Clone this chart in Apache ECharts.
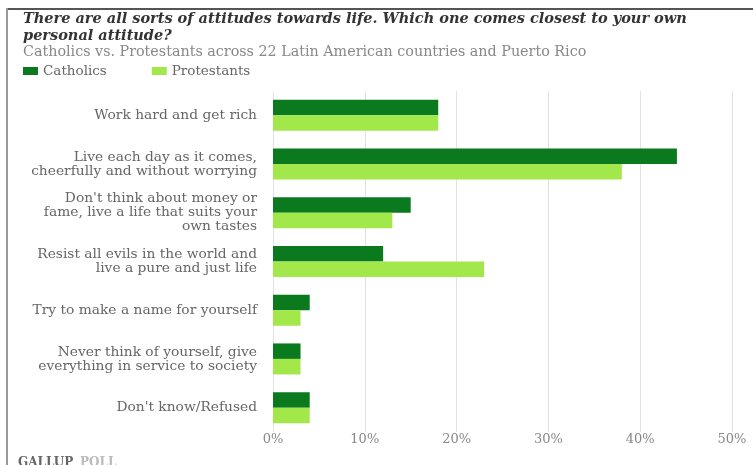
<!DOCTYPE html>
<html>
<head>
<meta charset="utf-8">
<script src="https://cdn.jsdelivr.net/npm/echarts@6/dist/echarts.min.js"></script>
<style>
  html, body { margin: 0; padding: 0; background: #fff; }
  #chart { width: 753px; height: 465px; }
</style>
</head>
<body>
<div id="chart"></div>
<script>
// attitudes, top to bottom
var categories = [
  'Work hard and get rich',
  'Live each day as it comes,\ncheerfully and without worrying',
  "Don't think about money or\nfame, live a life that suits your\nown tastes",
  'Resist all evils in the world and\nlive a pure and just life',
  'Try to make a name for yourself',
  'Never think of yourself, give\neverything in service to society',
  "Don't know/Refused"
];
var catholics = [18, 44, 15, 12, 4, 3, 4];
var protestants = [18, 38, 13, 23, 3, 3, 4];

var serif = 'Georgia, "DejaVu Serif", serif';
var dark = '#0b7a1e';
var light = '#a2e84a';

var myChart = echarts.init(document.getElementById('chart'));
myChart.setOption({
  animation: false,
  title: {
    text: 'There are all sorts of attitudes towards life. Which one comes closest to your own\npersonal attitude?',
    subtext: 'Catholics vs. Protestants across 22 Latin American countries and Puerto Rico',
    left: 18,
    top: 6,
    itemGap: 0,
    textStyle: {
      fontFamily: serif,
      fontStyle: 'italic',
      fontWeight: 'bold',
      fontSize: 14.5,
      lineHeight: 17,
      color: '#333'
    },
    subtextStyle: {
      fontFamily: serif,
      fontSize: 14.3,
      color: '#888'
    }
  },
  legend: {
    left: 18,
    top: 59,
    icon: 'rect',
    itemWidth: 15,
    itemHeight: 8,
    itemGap: 45,
    textStyle: { fontFamily: serif, fontSize: 13.5, color: '#666' },
    data: ['Catholics', 'Protestants']
  },
  grid: { left: 273, right: 21, top: 91, bottom: 33 },
  xAxis: {
    type: 'value',
    min: 0,
    max: 50,
    interval: 10,
    axisLine: { show: false },
    axisTick: { show: false },
    axisLabel: {
      formatter: '{value}%',
      fontFamily: serif,
      fontSize: 13,
      color: '#888',
      margin: 1
    },
    splitLine: { lineStyle: { color: '#e2e2e2', width: 1 } }
  },
  yAxis: {
    type: 'category',
    inverse: true,
    data: categories,
    axisLine: { show: false },
    axisTick: { show: false },
    axisLabel: {
      fontFamily: serif,
      fontSize: 13.8,
      lineHeight: 14,
      color: '#666',
      margin: 16
    }
  },
  series: [
    {
      name: 'Catholics',
      type: 'bar',
      data: catholics,
      barWidth: 15.5,
      barGap: '0%',
      itemStyle: { color: dark }
    },
    {
      name: 'Protestants',
      type: 'bar',
      data: protestants,
      barWidth: 15.5,
      barGap: '0%',
      itemStyle: { color: light }
    }
  ],
  graphic: [
    { type: 'rect', shape: { x: 6, y: 8, width: 760, height: 2 }, style: { fill: '#555' } },
    { type: 'rect', shape: { x: 6, y: 8, width: 2, height: 470 }, style: { fill: '#999' } },
    {
      type: 'text', left: 18, top: 457,
      style: { text: 'GALLUP', font: 'bold 12px ' + serif, fill: '#666' }
    },
    {
      type: 'text', left: 80, top: 457,
      style: { text: 'POLL', font: 'bold 12px ' + serif, fill: '#bbb' }
    }
  ]
});
</script>
</body>
</html>
